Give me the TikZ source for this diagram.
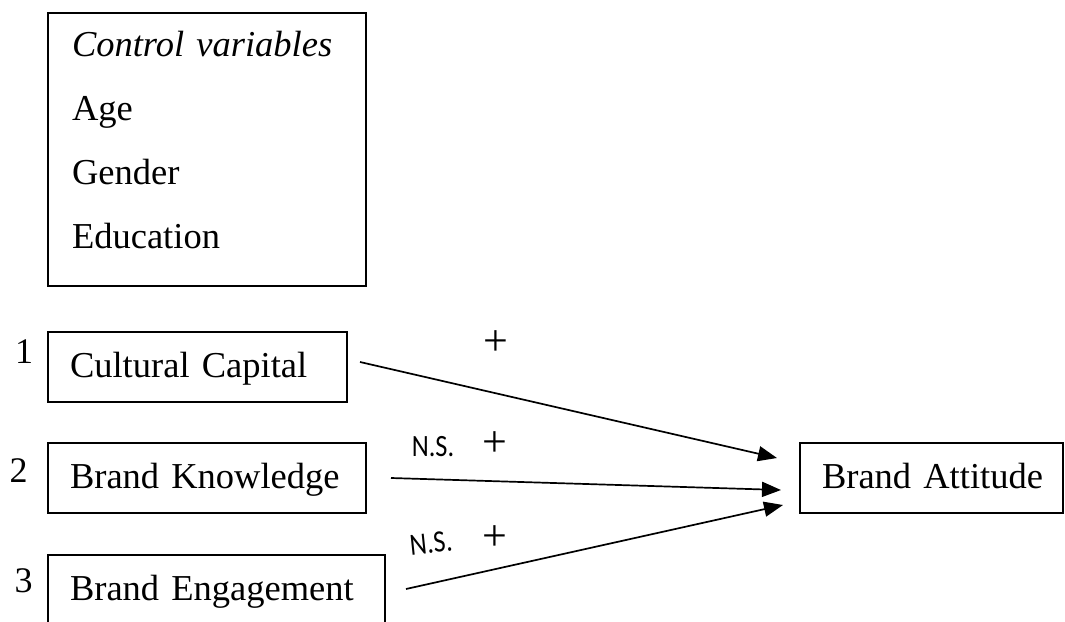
\documentclass[tikz,border=0pt]{standalone}
\usepackage{fontspec}
\setmainfont{Liberation Serif}
\newfontfamily\nsfont[FakeStretch=0.85]{Carlito}
\usetikzlibrary{arrows.meta}
\begin{document}
\begin{tikzpicture}[x=1pt,y=-1pt,
  varbox/.style={draw, line width=1.4pt, anchor=west, outer sep=0pt,
    inner xsep=22pt, inner ysep=0pt, minimum height=70pt,
    text height=27pt, text depth=7pt, align=left,
    font=\fontsize{36.5}{40}\selectfont},
  ctrlbox/.style={draw, line width=1.4pt, anchor=north west, outer sep=0pt,
    inner xsep=24pt, inner ysep=0pt, text width=270pt, align=left,
    text height=43pt, text depth=230pt,
    font=\fontsize{36.5}{64}\selectfont},
  num/.style={anchor=base, inner sep=0pt, font=\fontsize{36}{40}\selectfont},
  plus/.style={inner sep=0pt, font=\fontsize{44}{48}\selectfont},
  nslabel/.style={inner sep=0pt, font=\nsfont\fontsize{31}{34}\selectfont},
  link/.style={line width=1.7pt, -{Triangle[length=19pt,width=15pt]}}]
\useasboundingbox (0,0) rectangle (1065,621);

% control variables
\node[ctrlbox] (ctrl) at (48,13)
  {\textit{Control variables}\\Age\\Gender\\Education};

% predictor boxes
\node[varbox, text width=255pt] (cc) at (48,367) {\mbox{Cultural Capital}};
\node[varbox, text width=274pt] (bk) at (48,478) {\mbox{Brand Knowledge}};
\node[varbox, text width=293pt] (be) at (48,590) {\mbox{Brand Engagement}};
\node[varbox, text width=219pt] (ba) at (800,478) {\mbox{Brand Attitude}};

% numbers
\node[num] (n1) at (24,363) {1};
\node[num] (n2) at (18.5,482) {2};
\node[num] (n3) at (23.5,592) {3};

% connectors
\draw[link] ([xshift=13pt,yshift=5pt]cc.east) -- ([xshift=-23pt,yshift=20pt]ba.west);
\draw[link] ([xshift=25pt]bk.east) -- ([xshift=-19pt,yshift=-12pt]ba.west);
\draw[link] ([xshift=21pt,yshift=1pt]be.east) -- ([xshift=-17pt,yshift=-27pt]ba.west);

% labels
\node[plus] (p1) at (496,343) {+};
\node[plus] (p2) at (495,444) {+};
\node[plus] (p3) at (495,538) {+};
\node[nslabel] (ns2) at (433,447) {N.S.};
\node[nslabel, rotate=6] (ns3) at (431,543) {N.S.};
\end{tikzpicture}
\end{document}
